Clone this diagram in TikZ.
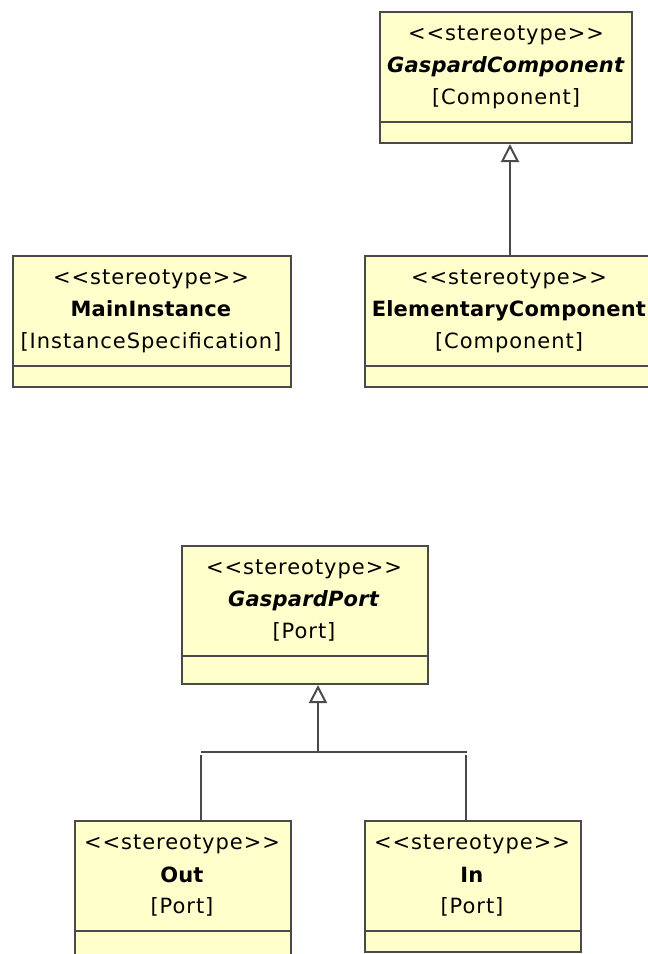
\documentclass[tikz,border=0pt]{standalone}
\usepackage{fontspec}
\setmainfont{DejaVu Sans}[LetterSpace=4.6, BoldFeatures={LetterSpace=1}, BoldItalicFeatures={LetterSpace=1}]
\usetikzlibrary{arrows.meta}
\definecolor{boxfill}{RGB}{255,255,204}
\definecolor{boxline}{RGB}{74,74,74}
\tikzset{
  umlbox/.style={draw=boxline, line width=2pt, fill=boxfill, anchor=north west, inner sep=0pt},
  umltext/.style={align=center, font=\fontsize{21}{32}\selectfont, inner sep=0pt, anchor=center},
  conn/.style={draw=boxline, line width=2pt},
  gen/.style={conn, -{Triangle[open, length=18pt, width=18pt, fill=white]}},
}
\newcommand{\stereo}{<{}<stereotype>{}>}
\begin{document}
\begin{tikzpicture}[x=1pt,y=-1pt]
\useasboundingbox (0,0) rectangle (648,954);
% GaspardComponent
\node[umlbox, minimum width=252pt, minimum height=131pt] (gc) at (379,11) {};
\draw[conn] (379,122) -- (631,122);
\node[umltext] (gct) at (506,67) {\stereo\\\textbf{\textit{GaspardComponent}}\\{}[Component]};
% MainInstance
\node[umlbox, minimum width=278pt, minimum height=131pt] (mi) at (12,255) {};
\draw[conn] (12,366) -- (290,366);
\node[umltext] (mit) at (151,311) {\stereo\\\textbf{MainInstance}\\{}[InstanceSpecification]};
% ElementaryComponent
\node[umlbox, minimum width=300pt, minimum height=131pt] (ec) at (364,255) {};
\draw[conn] (364,366) -- (664,366);
\node[umltext] (ect) at (509,311) {\stereo\\\textbf{ElementaryComponent}\\{}[Component]};
% GaspardPort
\node[umlbox, minimum width=246pt, minimum height=138pt] (gp) at (181,545) {};
\draw[conn] (181,656) -- (427,656);
\node[umltext] (gpt) at (304,601) {\stereo\\\textbf{\textit{GaspardPort}}\\{}[Port]};
% Out
\node[umlbox, minimum width=216pt, minimum height=150pt] (out) at (74,820) {};
\draw[conn] (74,931) -- (290,931);
\node[umltext] (outt) at (182,876) {\stereo\\\textbf{Out}\\{}[Port]};
% In
\node[umlbox, minimum width=216pt, minimum height=131pt] (in) at (364,820) {};
\draw[conn] (364,931) -- (580,931);
\node[umltext] (int) at (472,876) {\stereo\\\textbf{In}\\{}[Port]};
% generalizations
\draw[gen] (ec.north -| 510,0) -- (gc.south -| 510,0);
\coordinate (bus) at (318,752);
\coordinate (busl) at (201,752);
\coordinate (busr) at (467,752);
\draw[gen] (bus) -- (gp.south -| bus);
\draw[conn] (busl) -- (busr);
\draw[conn] (out.north -| 201,0) -- (201,755);
\draw[conn] (in.north -| 466,0) -- (466,755);
\end{tikzpicture}
\end{document}
